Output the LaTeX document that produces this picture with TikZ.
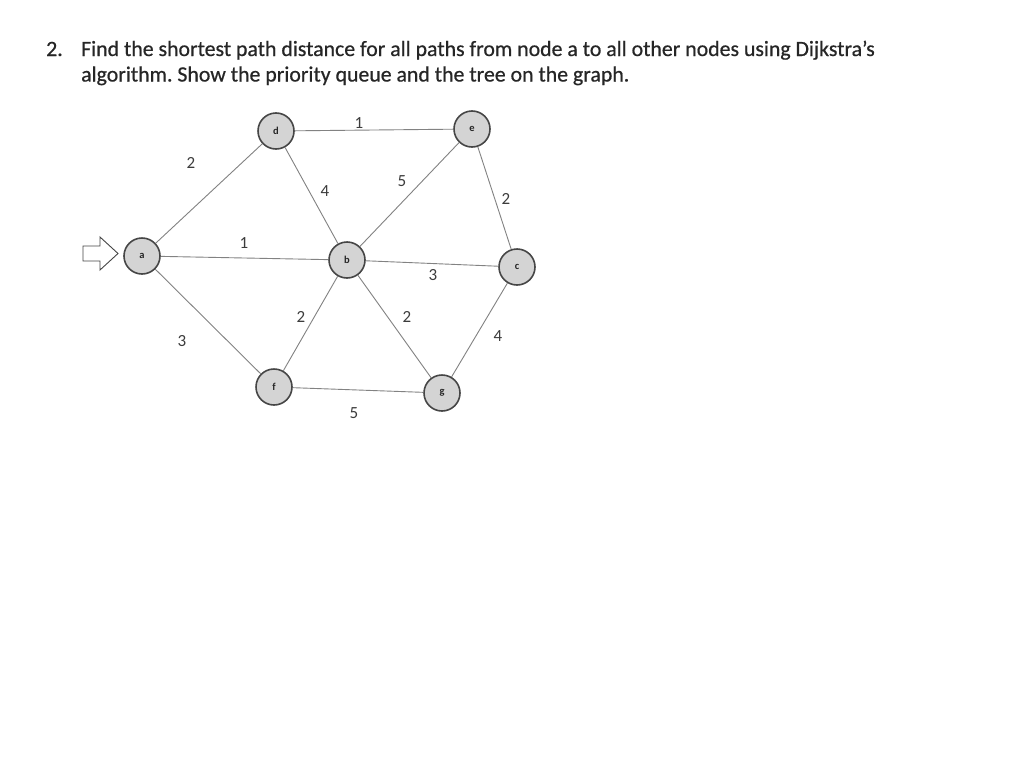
\documentclass[tikz,border=0pt]{standalone}
\usepackage{fontspec}
\setmainfont{Carlito}
\newfontfamily\ttlfont[FakeBold=0.6]{Carlito}
\definecolor{nodefill}{RGB}{212,212,212}
\definecolor{nodedraw}{RGB}{70,70,70}
\definecolor{edgecol}{RGB}{130,130,130}
\definecolor{labcol}{RGB}{60,60,60}
\begin{document}
\frenchspacing
\begin{tikzpicture}[x=1pt,y=-1pt,
  vtx/.style={circle,draw=nodedraw,fill=nodefill,line width=1.6pt,minimum size=36pt,inner sep=0pt,font=\fontsize{10.5}{11}\selectfont\bfseries,text=black!85},
  edge/.style={draw=edgecol,line width=0.9pt},
  wlab/.style={font=\fontsize{17}{18}\selectfont,text=labcol,inner sep=0pt},
  ttl/.style={font=\ttlfont\fontsize{21.8}{24}\selectfont,text=black!85,anchor=base west,inner sep=0pt}]
\useasboundingbox (0,0) rectangle (1024,779);
\fill[white] (0,0) rectangle (1024,779);
% title
\node[ttl] (num) at (46,56) {2.};
\node[ttl] (l1) at (81,56) {Find the shortest path distance for all paths from node a to all other nodes using Dijkstra’s};
\node[ttl] (l2) at (81,81.5) {algorithm. Show the priority queue and the tree on the graph.};
% vertices
\node[vtx] (a) at (142,256) {a};
\node[vtx] (d) at (276,131) {d};
\node[vtx] (e) at (472,129) {e};
\node[vtx] (b) at (347,260) {b};
\node[vtx] (c) at (517,267) {c};
\node[vtx] (f) at (274,387) {f};
\node[vtx] (g) at (442,393) {g};
% edges
\draw[edge] (a) -- (d);
\draw[edge] (a) -- (b);
\draw[edge] (a) -- (f);
\draw[edge] (d) -- (e);
\draw[edge] (d) -- (b);
\draw[edge] (e) -- (b);
\draw[edge] (e) -- (c);
\draw[edge] (b) -- (c);
\draw[edge] (b) -- (f);
\draw[edge] (b) -- (g);
\draw[edge] (f) -- (g);
\draw[edge] (c) -- (g);
% weights
\node[wlab] (wad) at (191,163) {2};
\node[wlab] (wde) at (359,123) {1};
\node[wlab] (wdb) at (325,191) {4};
\node[wlab] (web) at (402,181) {5};
\node[wlab] (wec) at (506,199) {2};
\node[wlab] (wab) at (244,243) {1};
\node[wlab] (wbc) at (433,275) {3};
\node[wlab] (wfb) at (301,317) {2};
\node[wlab] (wbg) at (407,317) {2};
\node[wlab] (waf) at (182,341) {3};
\node[wlab] (wcg) at (498,336) {4};
\node[wlab] (wfg) at (354,413) {5};
% start arrow (outline block arrow)
\coordinate (tip) at (118,253.5);
\draw[draw=nodedraw,fill=white,line width=0.9pt,line join=miter]
  (83,246) -- (100,246) -- (100,237) -- (tip) -- (100,270) -- (100,261) -- (83,261) -- cycle;
\end{tikzpicture}
\end{document}
